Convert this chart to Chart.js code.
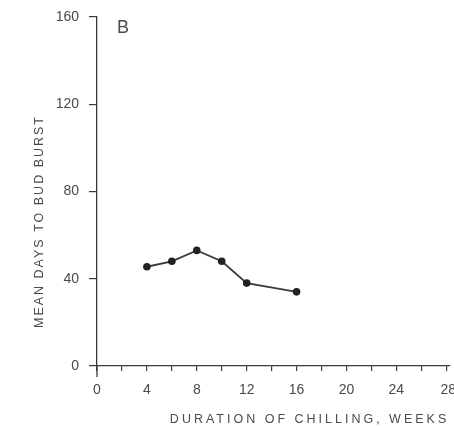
<!DOCTYPE html>
<html>
<head>
<meta charset="utf-8">
<script src="https://cdn.jsdelivr.net/npm/chart.js@4/dist/chart.umd.min.js"></script>
<style>
  html, body { margin: 0; padding: 0; background: #fff; }
  canvas { display: block; }
</style>
</head>
<body>
<canvas id="chart" width="454" height="429"></canvas>
<script>
// data
const weeks = [4, 6, 8, 10, 12, 16];
const meanDays = [45.5, 48, 53, 48, 38, 34];
const xTickValues = [0, 2, 4, 6, 8, 10, 12, 14, 16, 18, 20, 22, 24, 26, 28];
const xLabelEvery = 4;
const yTickValues = [0, 40, 80, 120, 160];
const panelLabel = 'B';
const xTitle = 'DURATION OF CHILLING, WEEKS';
const yTitle = 'MEAN DAYS TO BUD BURST';

const ink = '#3a3a3a';
const textColor = '#4a4a4a';
const fontFamily = '"Liberation Sans", Arial, sans-serif';
const tickFontSize = 14;
const xTickLength = 5;
const xTickPadding = 11;
const lastX = xTickValues[xTickValues.length - 1];

const titles = {
  id: 'titles',
  afterDraw(chart) {
    const { ctx, chartArea, scales } = chart;
    ctx.save();
    // y axis runs a little below the x axis
    ctx.strokeStyle = ink;
    ctx.lineWidth = 1.3;
    ctx.beginPath();
    ctx.moveTo(chartArea.left, chartArea.bottom);
    ctx.lineTo(chartArea.left, chartArea.bottom + 11);
    ctx.stroke();

    ctx.fillStyle = textColor;
    // last x label sits on the page edge and gets cut off
    ctx.font = tickFontSize + 'px ' + fontFamily;
    ctx.textAlign = 'center';
    ctx.textBaseline = 'middle';
    ctx.fillText(String(lastX), scales.x.getPixelForValue(lastX) + 2,
      scales.x.top + xTickLength + xTickPadding + tickFontSize * 0.6);

    ctx.textBaseline = 'alphabetic';
    ctx.font = '18px ' + fontFamily;
    ctx.textAlign = 'left';
    ctx.fillText(panelLabel, chartArea.left + 20, chartArea.top + 16);

    ctx.font = '12.5px ' + fontFamily;
    ctx.letterSpacing = '3px';
    ctx.textAlign = 'right';
    ctx.fillText(xTitle, scales.x.getPixelForValue(lastX) + 3, 423);

    ctx.letterSpacing = '2px';
    ctx.translate(43, 328);
    ctx.rotate(-Math.PI / 2);
    ctx.textAlign = 'left';
    ctx.fillText(yTitle, 0, 0);
    ctx.restore();
  }
};

new Chart(document.getElementById('chart'), {
  type: 'scatter',
  data: {
    datasets: [{
      data: weeks.map((w, i) => ({ x: w, y: meanDays[i] })),
      showLine: true,
      borderColor: ink,
      borderWidth: 1.8,
      backgroundColor: '#222',
      pointRadius: 3.8,
      pointBorderWidth: 0
    }]
  },
  options: {
    responsive: false,
    animation: false,
    devicePixelRatio: 1,
    layout: { padding: { top: 17, left: 0, right: 0, bottom: 0 } },
    plugins: { legend: { display: false }, tooltip: { enabled: false } },
    scales: {
      x: {
        type: 'linear',
        min: 0,
        max: 28.3,
        afterBuildTicks(scale) { scale.ticks = xTickValues.map(v => ({ value: v })); },
        afterFit(scale) {
          scale.height = 63;
          scale.paddingLeft = 0;
          scale.paddingRight = 0;
        },
        ticks: {
          color: textColor,
          font: { family: fontFamily, size: tickFontSize },
          padding: xTickPadding,
          maxRotation: 0,
          autoSkip: false,
          callback: v => (v % xLabelEvery === 0 && v !== lastX ? String(v) : '')
        },
        grid: { drawOnChartArea: false, color: ink, tickLength: xTickLength, lineWidth: 1.2 },
        border: { color: ink, width: 1.3 }
      },
      y: {
        min: 0,
        max: 160,
        afterBuildTicks(scale) { scale.ticks = yTickValues.map(v => ({ value: v })); },
        afterFit(scale) {
          scale.width = 97;
          scale.paddingTop = 0;
          scale.paddingBottom = 0;
        },
        ticks: {
          color: textColor,
          font: { family: fontFamily, size: tickFontSize },
          padding: 10
        },
        grid: { drawOnChartArea: false, color: ink, tickLength: 8, lineWidth: 1.2 },
        border: { color: ink, width: 1.3 }
      }
    }
  },
  plugins: [titles]
});
</script>
</body>
</html>
